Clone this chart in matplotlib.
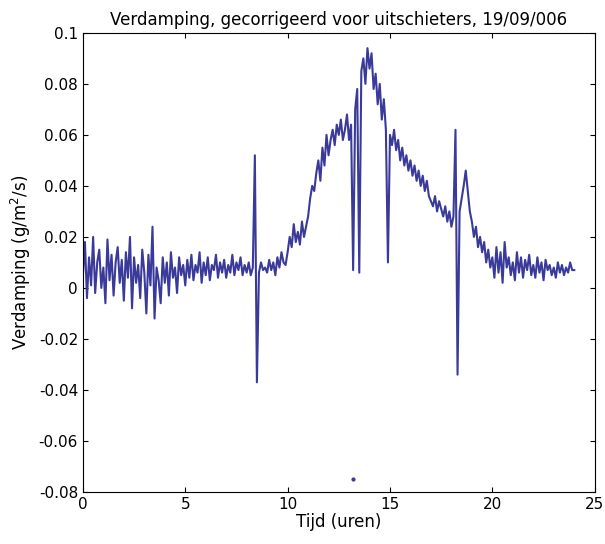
import matplotlib
matplotlib.use("Agg")
import matplotlib.pyplot as plt
import numpy as np

vals = [
0.005,0.018,-0.004,0.012,0.001,0.020,-0.002,0.010,0.015,0.000,
0.008,-0.006,0.019,0.003,0.013,-0.003,0.010,0.016,0.002,0.011,
-0.005,0.014,0.004,0.020,-0.008,0.012,0.002,0.009,-0.004,0.015,
0.006,-0.010,0.013,0.001,0.024,-0.012,0.008,0.003,-0.006,0.012,
0.002,0.010,-0.003,0.014,0.004,0.008,-0.002,0.012,0.005,0.009,
0.001,0.011,0.004,0.013,0.003,0.009,0.006,0.014,0.002,0.010,
0.005,0.012,0.003,0.009,0.007,0.013,0.004,0.010,0.006,0.011,
0.004,0.009,0.006,0.013,0.005,0.010,0.007,0.012,0.005,0.009,
0.006,0.010,0.005,0.008,0.052,-0.037,0.006,0.010,0.007,0.008,
0.006,0.011,0.007,0.010,0.005,0.012,0.008,0.014,0.010,0.009,
0.014,0.020,0.016,0.025,0.018,0.022,0.017,0.026,0.020,0.024,
0.028,0.035,0.040,0.038,0.045,0.050,0.042,0.055,0.048,0.060,
0.052,0.058,0.062,0.056,0.064,0.060,0.066,0.058,0.062,0.068,
0.058,0.064,0.007,0.070,0.078,0.006,0.085,0.090,0.080,0.094,
0.086,0.092,0.078,0.084,0.072,0.080,0.066,0.074,0.062,0.010,
0.060,0.056,0.062,0.054,0.058,0.050,0.055,0.048,0.052,0.046,
0.050,0.044,0.048,0.042,0.046,0.040,0.044,0.038,0.042,0.036,
0.034,0.032,0.036,0.030,0.034,0.031,0.028,0.032,0.026,0.030,
0.024,0.028,0.062,-0.034,0.030,0.035,0.040,0.046,0.038,0.030,
0.026,0.020,0.024,0.016,0.020,0.014,0.018,0.010,0.015,0.008,
0.012,0.004,0.016,0.006,0.014,0.002,0.018,0.008,0.012,0.005,
0.010,0.003,0.014,0.006,0.012,0.004,0.011,0.007,0.013,0.005,
0.009,0.004,0.012,0.006,0.010,0.003,0.011,0.007,0.009,0.005,
0.008,0.004,0.010,0.006,0.009,0.005,0.008,0.006,0.010,0.007,
0.007]
hours = np.arange(len(vals)) * 0.1
outlier_t = [13.2]
outlier_v = [-0.075]

col = '#3a3a9a'
fig = plt.figure(figsize=(6.05, 5.44), dpi=100)
ax = fig.add_axes([0.137, 0.0956, 0.846, 0.844])
ax.plot(hours, vals, color=col, lw=1.5)
ax.plot(outlier_t, outlier_v, '.', color=col, ms=4)
ax.set_xlim(0, 25)
ax.set_ylim(-0.08, 0.1)
ax.set_xticks([0, 5, 10, 15, 20, 25])
ax.set_yticks(np.round(np.arange(-0.08, 0.101, 0.02), 2))
ax.set_yticklabels(['-0.08','-0.06','-0.04','-0.02','0','0.02','0.04','0.06','0.08','0.1'])
ax.tick_params(direction='in', top=True, right=True, labelsize=11)
ax.set_xlabel('Tijd (uren)', fontsize=12, labelpad=1)
ax.set_ylabel('Verdamping (g/m$^2$/s)', fontsize=12)
ax.set_title('Verdamping, gecorrigeerd voor uitschieters, 19/09/006', fontsize=12)
fig.savefig('out.png')
